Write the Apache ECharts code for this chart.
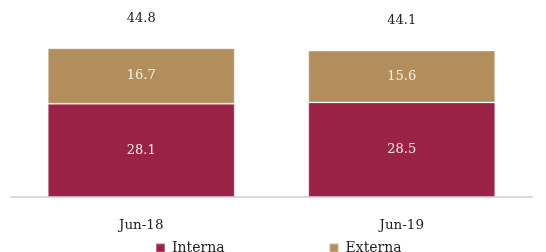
<!DOCTYPE html>
<html>
<head>
<meta charset="utf-8">
<script src="https://cdn.jsdelivr.net/npm/echarts@6/dist/echarts.min.js"></script>
<style>
html, body { margin: 0; padding: 0; background: #fff; }
#container { width: 546px; height: 252px; }
</style>
</head>
<body>
<div id="container"></div>
<script>
var categories = ['Jun-18', 'Jun-19'];
var interna = [28.1, 28.5];
var externa = [16.7, 15.6];
var totals = [44.8, 44.1];

var fontName = 'DejaVu Serif';

var dom = document.getElementById('container');
var myChart = echarts.init(dom);
var option = {
    animation: false,
    textStyle: { fontFamily: fontName },
    grid: {
        left: 11,
        right: 14,
        top: 31,
        bottom: 55
    },
    legend: {
        data: ['Interna', 'Externa'],
        left: 150,
        top: 236,
        itemWidth: 9,
        itemHeight: 9,
        itemGap: 104,
        icon: 'rect',
        textStyle: { fontFamily: fontName, fontSize: 14, color: '#222', padding: [0, 0, 0, 2] }
    },
    xAxis: {
        type: 'category',
        data: categories,
        axisLine: { lineStyle: { color: '#d9d9d9', width: 2 } },
        axisTick: { show: false },
        axisLabel: { margin: 21, fontSize: 13.5, color: '#222', fontFamily: fontName }
    },
    yAxis: {
        type: 'value',
        min: 0,
        max: 50,
        show: false,
        splitLine: { show: false }
    },
    series: [
        {
            name: 'Interna',
            type: 'bar',
            stack: 'a',
            barWidth: 187,
            itemStyle: { color: '#9b2247', borderColor: 'rgba(255,255,255,0.35)', borderWidth: 1 },
            label: { show: true, position: 'inside', color: '#f5efe6', fontSize: 13, fontFamily: fontName },
            data: interna
        },
        {
            name: 'Externa',
            type: 'bar',
            stack: 'a',
            itemStyle: { color: '#b28e5c', borderColor: 'rgba(255,255,255,0.35)', borderWidth: 1 },
            label: { show: true, position: 'inside', color: '#f5efe6', fontSize: 13, fontFamily: fontName },
            data: externa
        },
        {
            name: 'Total',
            type: 'line',
            symbol: 'circle',
            symbolSize: 2,
            showSymbol: true,
            itemStyle: { color: 'rgba(255,255,255,0)' },
            lineStyle: { width: 0, color: 'rgba(255,255,255,0)' },
            label: { show: true, position: 'top', distance: 22, color: '#222', fontSize: 13, fontFamily: fontName },
            data: totals
        }
    ]
};
myChart.setOption(option);
</script>
</body>
</html>
